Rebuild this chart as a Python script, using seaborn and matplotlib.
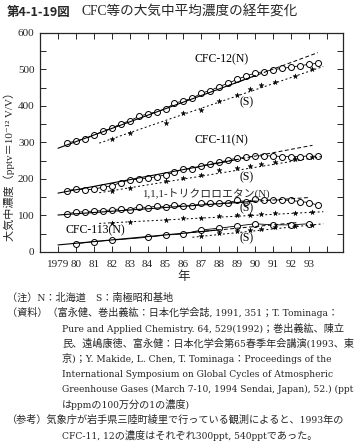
import numpy as np
import pandas as pd
import seaborn as sns
import matplotlib.pyplot as plt


# N (Hokkaido) semiannual observations
n_years = [1979.5, 1980.0, 1980.5, 1981.0, 1981.5, 1982.0, 1982.5, 1983.0, 1983.5, 1984.0,
           1984.5, 1985.0, 1985.5, 1986.0, 1986.5, 1987.0, 1987.5, 1988.0, 1988.5, 1989.0,
           1989.5, 1990.0, 1990.5, 1991.0, 1991.5, 1992.0, 1992.5, 1993.0, 1993.5]
cfc12_n = [298, 304, 310, 319, 331, 339, 351, 359, 371, 378, 384, 392, 407, 414, 421,
           435, 442, 453, 462, 473, 482, 490, 494, 499, 503, 506, 510, 514, 517]
cfc11_n = [168, 172, 170, 172, 177, 181, 190, 197, 199, 202, 206, 211, 218, 227, 227,
           236, 241, 245, 252, 257, 259, 263, 263, 263, 261, 261, 261, 263, 262]
tca_n = [104, 109, 110, 112, 113, 115, 118, 115, 124, 121, 126, 124, 129, 126, 126,
         133, 133, 133, 135, 141, 138, 144, 142, 142, 142, 141, 138, 135, 128]

cfc113_n_years = [1980.0, 1981.0, 1982.0, 1984.0, 1985.0, 1986.0, 1987.0, 1988.0,
                  1989.0, 1990.0, 1991.0, 1992.0, 1993.0]
cfc113_n = [22, 28, 32, 40, 46, 49, 60, 65, 71, 77, 74, 74, 77]

# S (Syowa Station)
s_years = [1982.0, 1983.0, 1985.0, 1986.0, 1987.0, 1988.0, 1989.0, 1989.7, 1990.3,
           1991.1, 1992.2, 1993.2]
cfc12_s = [310, 327, 354, 380, 389, 414, 430, 446, 458, 465, 482, 500]
cfc11_s = [168, 176, 193, 202, 210, 223, 229, 236, 241, 247, 255, 259]
tca_s = [80, 83, 88, 92, 92, 99, 101, 101, 103, 106, 106, 108]
cfc113_s_years = [1987.0, 1988.0, 1989.0, 1989.7, 1990.3, 1991.1, 1992.2, 1993.2]
cfc113_s = [44, 51, 56, 60, 63, 68, 71, 74]

# fitted trend lines: start/end points
n_fit_x0 = [1979.0, 1979.0, 1979.0, 1979.0]
n_fit_y0 = [284, 161, 101, 19]
n_fit_x1 = [1993.5, 1993.2, 1993.0, 1992.3]
n_fit_y1 = [546, 292, 149, 80]
n_fit_break = [1990.0, 1989.0, 1990.0, 1988.0]

s_fit_x0 = [1981.3, 1981.3, 1981.3, 1986.5]
s_fit_y0 = [298, 162, 78, 40]
s_fit_x1 = [1993.8, 1993.8, 1993.8, 1993.8]
s_fit_y1 = [508, 262, 110, 77]

year_ticks = list(range(1979, 1995))
year_labels = ["1979", "80", "81", "82", "83", "84", "85", "86", "87", "88", "89",
               "90", "91", "92", "93", ""]

sns.set_style("ticks")
plt.rcParams['font.family'] = ['Liberation Serif', 'Noto Sans CJK JP', 'DejaVu Sans']

fig = plt.figure(figsize=(3.61, 4.45), dpi=100)
ax = fig.add_axes([0.111, 0.434, 0.839, 0.492])

df_n = pd.DataFrame({"year": n_years, "CFC-12": cfc12_n, "CFC-11": cfc11_n, "TCA": tca_n})
df_113 = pd.DataFrame({"year": cfc113_n_years, "val": cfc113_n})

for col in ["CFC-12", "CFC-11", "TCA"]:
    sns.lineplot(x="year", y=col, data=df_n, ax=ax, color="black", lw=0.6,
                 marker="o", markersize=4.3, markerfacecolor="white",
                 markeredgecolor="black", markeredgewidth=0.7)
sns.lineplot(x="year", y="val", data=df_113, ax=ax, color="black", lw=0.6,
             marker="o", markersize=4.3, markerfacecolor="white",
             markeredgecolor="black", markeredgewidth=0.7)

for sv, sy in [(cfc12_s, s_years), (cfc11_s, s_years), (tca_s, s_years),
               (cfc113_s, cfc113_s_years)]:
    sns.scatterplot(x=sy, y=sv, ax=ax, color="black", marker="*", s=14,
                    edgecolor="black", linewidth=0.3, zorder=3)

# trend lines
for x0, y0, x1, y1, xb in zip(n_fit_x0, n_fit_y0, n_fit_x1, n_fit_y1, n_fit_break):
    slope = (y1 - y0) / (x1 - x0)
    yb = y0 + slope * (xb - x0)
    ax.plot([x0, xb], [y0, yb], color="black", lw=0.8)
    ax.plot([xb - 1.5, x1], [yb - slope * 1.5, y1], color="black", lw=0.7,
            ls=(0, (4, 2.5)))
for x0, y0, x1, y1 in zip(s_fit_x0, s_fit_y0, s_fit_x1, s_fit_y1):
    ax.plot([x0, x1], [y0, y1], color="black", lw=0.7, ls=(0, (2, 2.5)))

ax.set_xlim(1978.0, 1994.9)
ax.set_ylim(0, 600)
ax.set_xticks(year_ticks)
ax.set_xticklabels(year_labels, fontsize=8)
ax.set_yticks(range(0, 601, 50))
ax.set_yticklabels([str(v) if v % 100 == 0 else "" for v in range(0, 601, 50)],
                   fontsize=8)
ax.tick_params(direction="in", length=4, width=0.7, top=True, right=True, pad=4)
ax.tick_params(axis="x", pad=6)
for s in ax.spines.values():
    s.set_linewidth(0.9)

ax.set_xlabel("年", fontsize=9)
ax.xaxis.set_label_coords(0.475, -0.088)
ax.set_ylabel("大気中濃度（pptv＝10⁻¹² V/V）", fontsize=8)
ax.yaxis.set_label_coords(-0.083, 0.4)

lab = dict(fontsize=8.5, color="black", ha="left", va="center")
ax.text(1986.6, 528, "CFC-12(N)", **lab)
ax.text(1989.1, 410, "(S)", **lab)
ax.text(1986.6, 305, "CFC-11(N)", **lab)
ax.text(1989.1, 205, "(S)", **lab)
ax.text(1983.7, 159, "1,1,1-トリクロロエタン(N)", fontsize=7.8, ha="left", va="center")
ax.text(1989.1, 120, "(S)", **lab)
ax.text(1979.4, 60, "CFC-113(N)", **lab)
ax.text(1989.1, 38, "(S)", **lab)

fig.text(0.02, 0.973, "第4-1-19図", fontsize=9, fontweight="bold",
         family=["Noto Sans CJK JP"], va="center")
fig.text(0.225, 0.973, "CFC等の大気中平均濃度の経年変化", fontsize=9.8,
         family=["Liberation Serif", "Noto Sans CJK JP"], va="center")

notes = [
    (0.02, "（注）N：北海道　S：南極昭和基地"),
    (0.02, "（資料）（富永健、巻出義紘：日本化学会誌, 1991, 351；T. Tominaga："),
    (0.172, "Pure and Applied Chemistry. 64, 529(1992)；巻出義紘、陳立"),
    (0.172, "民、遠嶋康徳、富永健：日本化学会第65春季年会講演(1993、東"),
    (0.172, "京)；Y. Makide, L. Chen, T. Tominaga：Proceedings of the"),
    (0.172, "International Symposium on Global Cycles of Atmospheric"),
    (0.172, "Greenhouse Gases (March 7-10, 1994 Sendai, Japan), 52.) (ppt"),
    (0.172, "はppmの100万分の1の濃度)"),
    (0.02, "（参考）気象庁が岩手県三陸町綾里で行っている観測によると、1993年の"),
    (0.172, "CFC-11, 12の濃度はそれぞれ300ppt, 540pptであった。"),
]
y = 0.331
for x, line in notes:
    fig.text(x, y, line, fontsize=7.3, va="center", fontstretch="condensed",
             family=["DejaVu Serif", "Noto Sans CJK JP"])
    y -= 0.0343

fig.savefig("out.png", dpi=100)
